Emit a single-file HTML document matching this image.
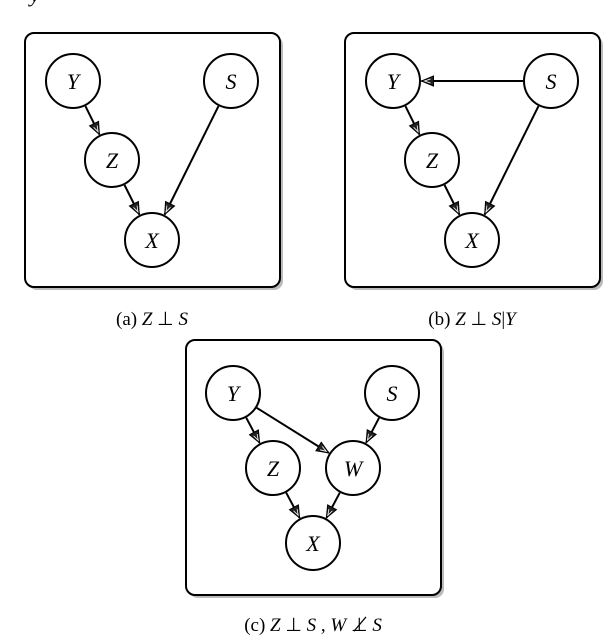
<!DOCTYPE html>
<html><head><meta charset="utf-8"><style>
html,body{margin:0;padding:0;background:#fff;width:608px;height:640px;overflow:hidden}
text{font-family:"Liberation Serif",serif;}
</style></head><body>
<svg width="608" height="640" viewBox="0 0 608 640" xmlns="http://www.w3.org/2000/svg">
<defs>
<marker id="ar" markerUnits="userSpaceOnUse" markerWidth="16" markerHeight="14" refX="13" refY="6" orient="auto">
<path d="M1,1 L13,6 L1,11 z" fill="#222" stroke="#000" stroke-width="1"/>
<path d="M4,4 L10,6 L4,8" fill="none" stroke="#fff" stroke-width="0.8"/>
</marker>
</defs>
<text x="30" y="2" font-size="22" font-style="italic">y</text>
<g stroke="#000" stroke-width="2">
<rect x="28" y="36" width="255" height="254" rx="9" fill="#bbb" stroke="none"/>
<rect x="25" y="33" width="255" height="254" rx="9" fill="#fff"/>
<rect x="348" y="36" width="255" height="254" rx="9" fill="#bbb" stroke="none"/>
<rect x="345" y="33" width="255" height="254" rx="9" fill="#fff"/>
<rect x="189" y="343" width="255" height="255" rx="9" fill="#bbb" stroke="none"/>
<rect x="186" y="340" width="255" height="255" rx="9" fill="#fff"/>
</g>
<g stroke="#000" stroke-width="2" fill="none" marker-end="url(#ar)">
<line x1="85.4" y1="106.1" x2="99.4" y2="134.4"/>
<line x1="124.5" y1="185" x2="139.3" y2="214.5"/>
<line x1="218.5" y1="106.1" x2="164.7" y2="214.5"/>
<line x1="405.4" y1="106.1" x2="419.4" y2="134.4"/>
<line x1="444.5" y1="185" x2="459.3" y2="214.5"/>
<line x1="538.5" y1="106.1" x2="484.7" y2="214.5"/>
<line x1="523" y1="81" x2="421.5" y2="81"/>
<line x1="246.2" y1="417.7" x2="259.6" y2="442.9"/>
<line x1="256.7" y1="407.8" x2="328.8" y2="452.9"/>
<line x1="379.1" y1="417.8" x2="366.1" y2="442.7"/>
<line x1="286.2" y1="492.7" x2="299.6" y2="517.9"/>
<line x1="339.8" y1="492.7" x2="326.4" y2="517.9"/>
</g>
<g stroke="#000" stroke-width="2" fill="#fff">
<circle cx="73" cy="81" r="27"/><circle cx="231" cy="81" r="27"/>
<circle cx="112" cy="160" r="27"/><circle cx="152" cy="240" r="27"/>
<circle cx="393" cy="81" r="27"/><circle cx="551" cy="81" r="27"/>
<circle cx="432" cy="160" r="27"/><circle cx="472" cy="240" r="27"/>
<circle cx="233" cy="393" r="27"/><circle cx="392" cy="393" r="27"/>
<circle cx="273" cy="468" r="27"/><circle cx="353" cy="468" r="27"/>
<circle cx="313" cy="543" r="27"/>
</g>
<g font-size="22" font-style="italic" text-anchor="middle">
<text x="73" y="89">Y</text><text x="231" y="89">S</text>
<text x="112" y="168">Z</text><text x="152" y="248">X</text>
<text x="393" y="89">Y</text><text x="551" y="89">S</text>
<text x="432" y="168">Z</text><text x="472" y="248">X</text>
<text x="233" y="401">Y</text><text x="392" y="401">S</text>
<text x="273" y="476">Z</text><text x="353" y="476">W</text>
<text x="313" y="551">X</text>
</g>
<g font-size="19" text-anchor="middle">
<text x="152" y="325">(a) <tspan font-style="italic">Z</tspan> ⊥ <tspan font-style="italic">S</tspan></text>
<text x="472" y="325">(b) <tspan font-style="italic">Z</tspan> ⊥ <tspan font-style="italic">S</tspan>|<tspan font-style="italic">Y</tspan></text>
<text x="313" y="631">(c) <tspan font-style="italic">Z</tspan> ⊥ <tspan font-style="italic">S</tspan> , <tspan font-style="italic">W</tspan> ⊥̸ <tspan font-style="italic">S</tspan></text>
</g>
</svg>
</body></html>
